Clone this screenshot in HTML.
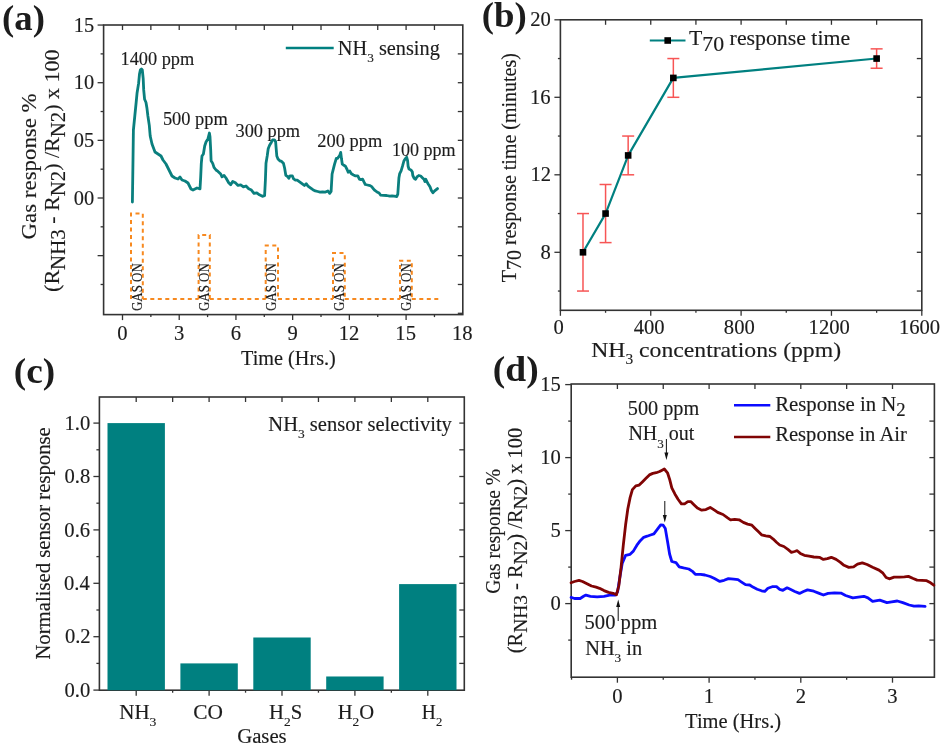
<!DOCTYPE html>
<html><head><meta charset="utf-8"><style>
html,body{margin:0;padding:0;background:#fff;}
body{width:944px;height:749px;overflow:hidden;}
svg{display:block;font-family:'Liberation Serif', serif;filter:blur(0.35px);}
</style></head><body>
<svg width="944" height="749" viewBox="0 0 944 749">
<rect width="944" height="749" fill="#fff"/>
<rect x="103.60" y="25.00" width="359.20" height="289.60" fill="none" stroke="#333333" stroke-width="1.6"/>
<line x1="97.60" y1="25.05" x2="103.60" y2="25.05" stroke="#333333" stroke-width="1.3" />
<line x1="97.60" y1="82.70" x2="103.60" y2="82.70" stroke="#333333" stroke-width="1.3" />
<line x1="97.60" y1="140.35" x2="103.60" y2="140.35" stroke="#333333" stroke-width="1.3" />
<line x1="97.60" y1="198.00" x2="103.60" y2="198.00" stroke="#333333" stroke-width="1.3" />
<line x1="97.60" y1="255.65" x2="103.60" y2="255.65" stroke="#333333" stroke-width="1.3" />
<line x1="100.60" y1="53.88" x2="103.60" y2="53.88" stroke="#333333" stroke-width="1.3" />
<line x1="100.60" y1="111.53" x2="103.60" y2="111.53" stroke="#333333" stroke-width="1.3" />
<line x1="100.60" y1="169.18" x2="103.60" y2="169.18" stroke="#333333" stroke-width="1.3" />
<line x1="100.60" y1="226.82" x2="103.60" y2="226.82" stroke="#333333" stroke-width="1.3" />
<line x1="100.60" y1="284.48" x2="103.60" y2="284.48" stroke="#333333" stroke-width="1.3" />
<line x1="457.80" y1="53.88" x2="462.80" y2="53.88" stroke="#333333" stroke-width="1.3" />
<line x1="457.80" y1="82.70" x2="462.80" y2="82.70" stroke="#333333" stroke-width="1.3" />
<line x1="457.80" y1="111.53" x2="462.80" y2="111.53" stroke="#333333" stroke-width="1.3" />
<line x1="457.80" y1="140.35" x2="462.80" y2="140.35" stroke="#333333" stroke-width="1.3" />
<line x1="457.80" y1="169.18" x2="462.80" y2="169.18" stroke="#333333" stroke-width="1.3" />
<line x1="457.80" y1="198.00" x2="462.80" y2="198.00" stroke="#333333" stroke-width="1.3" />
<line x1="457.80" y1="226.82" x2="462.80" y2="226.82" stroke="#333333" stroke-width="1.3" />
<line x1="457.80" y1="255.65" x2="462.80" y2="255.65" stroke="#333333" stroke-width="1.3" />
<line x1="457.80" y1="284.48" x2="462.80" y2="284.48" stroke="#333333" stroke-width="1.3" />
<line x1="457.80" y1="313.30" x2="462.80" y2="313.30" stroke="#333333" stroke-width="1.3" />
<line x1="122.50" y1="25.00" x2="122.50" y2="30.00" stroke="#333333" stroke-width="1.3" />
<line x1="122.50" y1="314.60" x2="122.50" y2="320.10" stroke="#333333" stroke-width="1.3" />
<line x1="150.86" y1="25.00" x2="150.86" y2="30.00" stroke="#333333" stroke-width="1.3" />
<line x1="150.86" y1="314.60" x2="150.86" y2="317.10" stroke="#333333" stroke-width="1.3" />
<line x1="179.22" y1="25.00" x2="179.22" y2="30.00" stroke="#333333" stroke-width="1.3" />
<line x1="179.22" y1="314.60" x2="179.22" y2="320.10" stroke="#333333" stroke-width="1.3" />
<line x1="207.58" y1="25.00" x2="207.58" y2="30.00" stroke="#333333" stroke-width="1.3" />
<line x1="207.58" y1="314.60" x2="207.58" y2="317.10" stroke="#333333" stroke-width="1.3" />
<line x1="235.94" y1="25.00" x2="235.94" y2="30.00" stroke="#333333" stroke-width="1.3" />
<line x1="235.94" y1="314.60" x2="235.94" y2="320.10" stroke="#333333" stroke-width="1.3" />
<line x1="264.29" y1="25.00" x2="264.29" y2="30.00" stroke="#333333" stroke-width="1.3" />
<line x1="264.29" y1="314.60" x2="264.29" y2="317.10" stroke="#333333" stroke-width="1.3" />
<line x1="292.65" y1="25.00" x2="292.65" y2="30.00" stroke="#333333" stroke-width="1.3" />
<line x1="292.65" y1="314.60" x2="292.65" y2="320.10" stroke="#333333" stroke-width="1.3" />
<line x1="321.01" y1="25.00" x2="321.01" y2="30.00" stroke="#333333" stroke-width="1.3" />
<line x1="321.01" y1="314.60" x2="321.01" y2="317.10" stroke="#333333" stroke-width="1.3" />
<line x1="349.37" y1="25.00" x2="349.37" y2="30.00" stroke="#333333" stroke-width="1.3" />
<line x1="349.37" y1="314.60" x2="349.37" y2="320.10" stroke="#333333" stroke-width="1.3" />
<line x1="377.73" y1="25.00" x2="377.73" y2="30.00" stroke="#333333" stroke-width="1.3" />
<line x1="377.73" y1="314.60" x2="377.73" y2="317.10" stroke="#333333" stroke-width="1.3" />
<line x1="406.09" y1="25.00" x2="406.09" y2="30.00" stroke="#333333" stroke-width="1.3" />
<line x1="406.09" y1="314.60" x2="406.09" y2="320.10" stroke="#333333" stroke-width="1.3" />
<line x1="434.45" y1="25.00" x2="434.45" y2="30.00" stroke="#333333" stroke-width="1.3" />
<line x1="434.45" y1="314.60" x2="434.45" y2="317.10" stroke="#333333" stroke-width="1.3" />
<text x="73.72" y="31.65" font-size="20.4" fill="#1c1c1c" stroke="#1c1c1c" stroke-width="0.15">15</text>
<text x="73.72" y="89.30" font-size="20.4" fill="#1c1c1c" stroke="#1c1c1c" stroke-width="0.15">10</text>
<text x="73.72" y="146.95" font-size="20.4" fill="#1c1c1c" stroke="#1c1c1c" stroke-width="0.15">05</text>
<text x="73.72" y="204.60" font-size="20.4" fill="#1c1c1c" stroke="#1c1c1c" stroke-width="0.15">00</text>
<text x="117.35" y="340.20" font-size="20.6" fill="#1c1c1c" stroke="#1c1c1c" stroke-width="0.15">0</text>
<text x="174.02" y="340.20" font-size="20.6" fill="#1c1c1c" stroke="#1c1c1c" stroke-width="0.15">3</text>
<text x="230.68" y="340.20" font-size="20.6" fill="#1c1c1c" stroke="#1c1c1c" stroke-width="0.15">6</text>
<text x="287.61" y="340.20" font-size="20.6" fill="#1c1c1c" stroke="#1c1c1c" stroke-width="0.15">9</text>
<text x="338.76" y="340.20" font-size="20.6" fill="#1c1c1c" stroke="#1c1c1c" stroke-width="0.15">12</text>
<text x="395.33" y="340.20" font-size="20.6" fill="#1c1c1c" stroke="#1c1c1c" stroke-width="0.15">15</text>
<text x="452.04" y="340.20" font-size="20.6" fill="#1c1c1c" stroke="#1c1c1c" stroke-width="0.15">18</text>
<text x="241.10" y="365.00" font-size="20" fill="#1c1c1c" stroke="#1c1c1c" stroke-width="0.15" textLength="94.73" lengthAdjust="spacingAndGlyphs" >Time (Hrs.)</text>
<text transform="translate(36.10,238.50) rotate(-90)" x="-0.91" y="0" font-size="22" fill="#1c1c1c" stroke="#1c1c1c" stroke-width="0.15" textLength="146.05" lengthAdjust="spacingAndGlyphs" >Gas response %</text>
<text transform="translate(59.30,290.90) rotate(-90)" x="-0.99" y="0" font-size="21.5" fill="#1c1c1c" stroke="#1c1c1c" stroke-width="0.15" textLength="242.43" lengthAdjust="spacingAndGlyphs" >(R<tspan font-size="20.43" dy="5.50">NH3</tspan><tspan dy="-5.50"> - R</tspan><tspan font-size="20.43" dy="5.50">N2</tspan><tspan dy="-5.50">) /R</tspan><tspan font-size="20.43" dy="5.50">N2</tspan><tspan dy="-5.50">) x 100</tspan></text>
<line x1="285.80" y1="48.00" x2="333.70" y2="48.00" stroke="#008080" stroke-width="2.4" />
<text x="337.89" y="55.20" font-size="20" fill="#1c1c1c" stroke="#1c1c1c" stroke-width="0.15" textLength="101.91" lengthAdjust="spacingAndGlyphs" >NH<tspan font-size="13.00" dy="7.00">3</tspan><tspan dy="-7.00"> sensing</tspan></text>
<text x="120.54" y="65.20" font-size="18.5" fill="#1c1c1c" stroke="#1c1c1c" stroke-width="0.15" textLength="73.69" lengthAdjust="spacingAndGlyphs" >1400 ppm</text>
<text x="162.90" y="124.60" font-size="18.5" fill="#1c1c1c" stroke="#1c1c1c" stroke-width="0.15" textLength="64.94" lengthAdjust="spacingAndGlyphs" >500 ppm</text>
<text x="235.48" y="136.70" font-size="18.5" fill="#1c1c1c" stroke="#1c1c1c" stroke-width="0.15" textLength="64.66" lengthAdjust="spacingAndGlyphs" >300 ppm</text>
<text x="317.27" y="146.70" font-size="18.5" fill="#1c1c1c" stroke="#1c1c1c" stroke-width="0.15" textLength="64.96" lengthAdjust="spacingAndGlyphs" >200 ppm</text>
<text x="391.97" y="155.50" font-size="18.5" fill="#1c1c1c" stroke="#1c1c1c" stroke-width="0.15" textLength="63.56" lengthAdjust="spacingAndGlyphs" >100 ppm</text>
<polyline points="132.4,202.0 133.0,160.0 133.4,130.0 134.8,116.0 136.2,102.0 137.1,92.7 138.6,83.4 139.5,74.0 140.4,69.8 141.4,69.0 142.3,70.0 143.2,78.7 143.7,89.9 144.6,99.3 146.0,102.5 147.0,108.6 147.9,116.0 149.3,125.4 150.2,136.0 152.0,144.0 155.0,152.0 158.0,154.0 161.0,156.0 163.0,160.0 166.0,164.0 169.0,170.0 172.0,176.0 175.0,178.0 178.0,179.0 180.0,177.0 182.0,180.0 185.0,181.0 188.0,183.0 191.0,189.0 193.0,190.0 197.0,188.0 200.0,188.8 200.7,176.8 201.3,163.4 202.0,156.0 203.4,154.0 204.7,146.0 206.0,142.0 208.0,138.7 209.4,133.0 210.0,136.7 210.7,150.0 211.1,160.7 212.7,163.4 214.0,167.4 216.0,170.0 218.0,171.4 220.7,174.0 222.0,176.8 224.0,175.4 226.0,178.0 228.7,182.8 230.7,184.8 232.7,181.4 235.4,182.8 238.0,185.4 240.7,184.8 243.4,186.8 246.0,186.0 248.7,188.8 251.4,190.1 254.0,193.4 256.8,192.8 259.4,194.8 262.4,196.3 264.6,195.7 265.4,180.0 266.0,163.2 267.2,156.0 268.2,148.8 269.6,145.2 271.4,142.2 272.6,139.8 274.4,139.8 275.6,141.6 276.2,148.8 276.8,156.0 278.0,159.0 279.8,160.8 281.6,161.4 283.4,163.2 284.6,168.0 285.8,175.3 287.6,176.5 288.8,178.3 290.0,175.9 292.4,175.9 293.6,178.9 295.4,180.1 297.2,180.1 299.6,181.9 302.0,183.7 304.4,185.5 306.2,183.7 308.0,186.1 310.4,187.9 312.9,189.7 315.3,190.9 317.7,191.5 320.1,192.1 322.5,191.8 325.5,192.1 327.9,190.9 329.7,193.3 331.1,191.5 332.1,174.0 333.0,170.4 334.5,164.4 336.3,158.4 337.5,158.3 339.6,155.6 340.7,152.4 341.5,158.8 342.3,164.2 343.9,165.3 345.5,166.3 347.1,169.5 348.2,172.2 349.8,171.1 351.4,173.8 353.5,174.9 355.6,175.9 357.8,175.9 359.4,179.1 361.0,179.7 362.6,179.1 364.2,182.4 365.3,184.5 367.4,185.0 370.1,185.6 371.7,186.6 373.3,188.8 374.9,190.4 377.0,192.0 379.1,193.0 380.7,195.2 383.4,195.4 386.6,195.5 389.8,196.2 392.0,196.0 394.1,196.2 396.8,196.5 397.8,194.1 398.9,178.1 399.7,173.6 401.1,170.8 402.5,166.2 403.9,161.0 405.3,158.7 406.7,157.3 407.6,160.6 408.1,166.2 409.0,169.0 410.9,169.9 412.3,171.8 412.8,175.5 414.2,178.3 415.6,179.3 417.0,176.9 418.8,175.5 420.7,176.0 422.6,177.9 424.0,179.3 424.9,181.6 425.8,179.3 426.8,181.6 428.2,183.9 430.0,186.7 431.4,190.5 432.9,192.8 434.7,190.9 437.5,188.6" fill="none" stroke="#0a7f7e" stroke-width="2.8" stroke-linejoin="round" stroke-linecap="round" />
<path d="M131.0,299.0 L131.0,213.5 L142.8,213.5 L142.8,299.0" fill="none" stroke="#f7891f" stroke-width="2" stroke-dasharray="4,3.5"/>
<path d="M142.8,299.0 L198.6,299.0" fill="none" stroke="#f7891f" stroke-width="2" stroke-dasharray="4,3.5"/>
<text transform="translate(141.50,310.50) rotate(-90)" x="-0.52" y="0" font-size="14" fill="#1c1c1c" stroke="#1c1c1c" stroke-width="0.15" textLength="47.77" lengthAdjust="spacingAndGlyphs" >GAS ON</text>
<path d="M198.6,299.0 L198.6,235.1 L209.8,235.1 L209.8,299.0" fill="none" stroke="#f7891f" stroke-width="2" stroke-dasharray="4,3.5"/>
<path d="M209.8,299.0 L265.7,299.0" fill="none" stroke="#f7891f" stroke-width="2" stroke-dasharray="4,3.5"/>
<text transform="translate(208.80,310.50) rotate(-90)" x="-0.52" y="0" font-size="14" fill="#1c1c1c" stroke="#1c1c1c" stroke-width="0.15" textLength="47.77" lengthAdjust="spacingAndGlyphs" >GAS ON</text>
<path d="M265.7,299.0 L265.7,245.6 L278.0,245.6 L278.0,299.0" fill="none" stroke="#f7891f" stroke-width="2" stroke-dasharray="4,3.5"/>
<path d="M278.0,299.0 L333.0,299.0" fill="none" stroke="#f7891f" stroke-width="2" stroke-dasharray="4,3.5"/>
<text transform="translate(276.45,310.50) rotate(-90)" x="-0.52" y="0" font-size="14" fill="#1c1c1c" stroke="#1c1c1c" stroke-width="0.15" textLength="47.77" lengthAdjust="spacingAndGlyphs" >GAS ON</text>
<path d="M333.0,299.0 L333.0,253.0 L344.8,253.0 L344.8,299.0" fill="none" stroke="#f7891f" stroke-width="2" stroke-dasharray="4,3.5"/>
<path d="M344.8,299.0 L400.0,299.0" fill="none" stroke="#f7891f" stroke-width="2" stroke-dasharray="4,3.5"/>
<text transform="translate(343.50,310.50) rotate(-90)" x="-0.52" y="0" font-size="14" fill="#1c1c1c" stroke="#1c1c1c" stroke-width="0.15" textLength="47.77" lengthAdjust="spacingAndGlyphs" >GAS ON</text>
<path d="M400.0,299.0 L400.0,260.8 L411.8,260.8 L411.8,299.0" fill="none" stroke="#f7891f" stroke-width="2" stroke-dasharray="4,3.5"/>
<path d="M411.8,299.0 L441,299.0" fill="none" stroke="#f7891f" stroke-width="2" stroke-dasharray="4,3.5"/>
<text transform="translate(410.50,310.50) rotate(-90)" x="-0.52" y="0" font-size="14" fill="#1c1c1c" stroke="#1c1c1c" stroke-width="0.15" textLength="47.77" lengthAdjust="spacingAndGlyphs" >GAS ON</text>
<rect x="560.40" y="19.80" width="361.40" height="290.50" fill="none" stroke="#333333" stroke-width="1.6"/>
<line x1="554.40" y1="19.80" x2="560.40" y2="19.80" stroke="#333333" stroke-width="1.3" />
<line x1="554.40" y1="97.30" x2="560.40" y2="97.30" stroke="#333333" stroke-width="1.3" />
<line x1="554.40" y1="174.80" x2="560.40" y2="174.80" stroke="#333333" stroke-width="1.3" />
<line x1="554.40" y1="252.30" x2="560.40" y2="252.30" stroke="#333333" stroke-width="1.3" />
<line x1="557.90" y1="58.55" x2="560.40" y2="58.55" stroke="#333333" stroke-width="1.3" />
<line x1="557.90" y1="136.05" x2="560.40" y2="136.05" stroke="#333333" stroke-width="1.3" />
<line x1="557.90" y1="213.55" x2="560.40" y2="213.55" stroke="#333333" stroke-width="1.3" />
<line x1="557.90" y1="291.05" x2="560.40" y2="291.05" stroke="#333333" stroke-width="1.3" />
<line x1="916.80" y1="58.55" x2="921.80" y2="58.55" stroke="#333333" stroke-width="1.3" />
<line x1="916.80" y1="97.30" x2="921.80" y2="97.30" stroke="#333333" stroke-width="1.3" />
<line x1="916.80" y1="136.05" x2="921.80" y2="136.05" stroke="#333333" stroke-width="1.3" />
<line x1="916.80" y1="174.80" x2="921.80" y2="174.80" stroke="#333333" stroke-width="1.3" />
<line x1="916.80" y1="213.55" x2="921.80" y2="213.55" stroke="#333333" stroke-width="1.3" />
<line x1="916.80" y1="252.30" x2="921.80" y2="252.30" stroke="#333333" stroke-width="1.3" />
<line x1="916.80" y1="291.05" x2="921.80" y2="291.05" stroke="#333333" stroke-width="1.3" />
<line x1="605.57" y1="19.80" x2="605.57" y2="24.80" stroke="#333333" stroke-width="1.3" />
<line x1="650.75" y1="19.80" x2="650.75" y2="24.80" stroke="#333333" stroke-width="1.3" />
<line x1="695.92" y1="19.80" x2="695.92" y2="24.80" stroke="#333333" stroke-width="1.3" />
<line x1="741.10" y1="19.80" x2="741.10" y2="24.80" stroke="#333333" stroke-width="1.3" />
<line x1="786.27" y1="19.80" x2="786.27" y2="24.80" stroke="#333333" stroke-width="1.3" />
<line x1="831.45" y1="19.80" x2="831.45" y2="24.80" stroke="#333333" stroke-width="1.3" />
<line x1="876.62" y1="19.80" x2="876.62" y2="24.80" stroke="#333333" stroke-width="1.3" />
<line x1="560.40" y1="310.30" x2="560.40" y2="315.80" stroke="#333333" stroke-width="1.3" />
<line x1="605.57" y1="310.30" x2="605.57" y2="312.80" stroke="#333333" stroke-width="1.3" />
<line x1="650.75" y1="310.30" x2="650.75" y2="315.80" stroke="#333333" stroke-width="1.3" />
<line x1="695.92" y1="310.30" x2="695.92" y2="312.80" stroke="#333333" stroke-width="1.3" />
<line x1="741.10" y1="310.30" x2="741.10" y2="315.80" stroke="#333333" stroke-width="1.3" />
<line x1="786.27" y1="310.30" x2="786.27" y2="312.80" stroke="#333333" stroke-width="1.3" />
<line x1="831.45" y1="310.30" x2="831.45" y2="315.80" stroke="#333333" stroke-width="1.3" />
<line x1="876.62" y1="310.30" x2="876.62" y2="312.80" stroke="#333333" stroke-width="1.3" />
<line x1="921.80" y1="310.30" x2="921.80" y2="315.80" stroke="#333333" stroke-width="1.3" />
<text x="530.22" y="26.40" font-size="20.6" fill="#1c1c1c" stroke="#1c1c1c" stroke-width="0.15">20</text>
<text x="530.02" y="103.90" font-size="20.6" fill="#1c1c1c" stroke="#1c1c1c" stroke-width="0.15">16</text>
<text x="530.53" y="181.40" font-size="20.6" fill="#1c1c1c" stroke="#1c1c1c" stroke-width="0.15">12</text>
<text x="540.52" y="258.90" font-size="20.6" fill="#1c1c1c" stroke="#1c1c1c" stroke-width="0.15">8</text>
<text x="553.45" y="334.30" font-size="20.6" fill="#1c1c1c" stroke="#1c1c1c" stroke-width="0.15">0</text>
<text x="633.71" y="334.30" font-size="20.6" fill="#1c1c1c" stroke="#1c1c1c" stroke-width="0.15">400</text>
<text x="723.85" y="334.30" font-size="20.6" fill="#1c1c1c" stroke="#1c1c1c" stroke-width="0.15">800</text>
<text x="808.59" y="334.30" font-size="20.6" fill="#1c1c1c" stroke="#1c1c1c" stroke-width="0.15">1200</text>
<text x="898.94" y="334.30" font-size="20.6" fill="#1c1c1c" stroke="#1c1c1c" stroke-width="0.15">1600</text>
<text x="591.19" y="356.50" font-size="21.5" fill="#1c1c1c" stroke="#1c1c1c" stroke-width="0.15" textLength="249.87" lengthAdjust="spacingAndGlyphs" >NH<tspan font-size="13.97" dy="7.50">3</tspan><tspan dy="-7.50"> concentrations (ppm)</tspan></text>
<text transform="translate(515.80,281.90) rotate(-90)" x="-0.40" y="0" font-size="20" fill="#1c1c1c" stroke="#1c1c1c" stroke-width="0.15" textLength="229.17" lengthAdjust="spacingAndGlyphs" >T<tspan dy="5.60">70</tspan><tspan dy="-5.60"> response time (minutes)</tspan></text>
<line x1="582.99" y1="291.05" x2="582.99" y2="213.55" stroke="#f75555" stroke-width="1.5" />
<line x1="576.99" y1="291.05" x2="588.99" y2="291.05" stroke="#f75555" stroke-width="1.5" />
<line x1="576.99" y1="213.55" x2="588.99" y2="213.55" stroke="#f75555" stroke-width="1.5" />
<line x1="605.57" y1="242.61" x2="605.57" y2="184.49" stroke="#f75555" stroke-width="1.5" />
<line x1="599.57" y1="242.61" x2="611.57" y2="242.61" stroke="#f75555" stroke-width="1.5" />
<line x1="599.57" y1="184.49" x2="611.57" y2="184.49" stroke="#f75555" stroke-width="1.5" />
<line x1="628.16" y1="174.80" x2="628.16" y2="136.05" stroke="#f75555" stroke-width="1.5" />
<line x1="622.16" y1="174.80" x2="634.16" y2="174.80" stroke="#f75555" stroke-width="1.5" />
<line x1="622.16" y1="136.05" x2="634.16" y2="136.05" stroke="#f75555" stroke-width="1.5" />
<line x1="673.34" y1="97.30" x2="673.34" y2="58.55" stroke="#f75555" stroke-width="1.5" />
<line x1="667.34" y1="97.30" x2="679.34" y2="97.30" stroke="#f75555" stroke-width="1.5" />
<line x1="667.34" y1="58.55" x2="679.34" y2="58.55" stroke="#f75555" stroke-width="1.5" />
<line x1="876.62" y1="68.24" x2="876.62" y2="48.86" stroke="#f75555" stroke-width="1.5" />
<line x1="870.62" y1="68.24" x2="882.62" y2="68.24" stroke="#f75555" stroke-width="1.5" />
<line x1="870.62" y1="48.86" x2="882.62" y2="48.86" stroke="#f75555" stroke-width="1.5" />
<polyline points="583.0,252.3 605.6,213.6 628.2,155.4 673.3,77.9 876.6,58.5" fill="none" stroke="#008080" stroke-width="2.2" stroke-linejoin="round" stroke-linecap="round" />
<rect x="579.69" y="249.00" width="6.6" height="6.6" fill="#000"/>
<rect x="602.27" y="210.25" width="6.6" height="6.6" fill="#000"/>
<rect x="624.86" y="152.12" width="6.6" height="6.6" fill="#000"/>
<rect x="670.04" y="74.62" width="6.6" height="6.6" fill="#000"/>
<rect x="873.33" y="55.25" width="6.6" height="6.6" fill="#000"/>
<line x1="649.80" y1="40.50" x2="685.50" y2="40.50" stroke="#008080" stroke-width="2.2" />
<rect x="664.40" y="37.20" width="6.6" height="6.6" fill="#000"/>
<text x="689.06" y="45.20" font-size="20.5" fill="#1c1c1c" stroke="#1c1c1c" stroke-width="0.15" textLength="161.03" lengthAdjust="spacingAndGlyphs" >T<tspan dy="5.60">70</tspan><tspan dy="-5.60"> response time</tspan></text>
<rect x="99.40" y="397.00" width="364.90" height="293.20" fill="none" stroke="#333333" stroke-width="1.6"/>
<line x1="93.40" y1="690.10" x2="99.40" y2="690.10" stroke="#333333" stroke-width="1.3" />
<line x1="96.40" y1="663.40" x2="99.40" y2="663.40" stroke="#333333" stroke-width="1.3" />
<line x1="459.30" y1="663.40" x2="464.30" y2="663.40" stroke="#333333" stroke-width="1.3" />
<line x1="93.40" y1="636.70" x2="99.40" y2="636.70" stroke="#333333" stroke-width="1.3" />
<line x1="459.30" y1="636.70" x2="464.30" y2="636.70" stroke="#333333" stroke-width="1.3" />
<line x1="96.40" y1="610.00" x2="99.40" y2="610.00" stroke="#333333" stroke-width="1.3" />
<line x1="459.30" y1="610.00" x2="464.30" y2="610.00" stroke="#333333" stroke-width="1.3" />
<line x1="93.40" y1="583.30" x2="99.40" y2="583.30" stroke="#333333" stroke-width="1.3" />
<line x1="459.30" y1="583.30" x2="464.30" y2="583.30" stroke="#333333" stroke-width="1.3" />
<line x1="96.40" y1="556.60" x2="99.40" y2="556.60" stroke="#333333" stroke-width="1.3" />
<line x1="459.30" y1="556.60" x2="464.30" y2="556.60" stroke="#333333" stroke-width="1.3" />
<line x1="93.40" y1="529.90" x2="99.40" y2="529.90" stroke="#333333" stroke-width="1.3" />
<line x1="459.30" y1="529.90" x2="464.30" y2="529.90" stroke="#333333" stroke-width="1.3" />
<line x1="96.40" y1="503.20" x2="99.40" y2="503.20" stroke="#333333" stroke-width="1.3" />
<line x1="459.30" y1="503.20" x2="464.30" y2="503.20" stroke="#333333" stroke-width="1.3" />
<line x1="93.40" y1="476.50" x2="99.40" y2="476.50" stroke="#333333" stroke-width="1.3" />
<line x1="459.30" y1="476.50" x2="464.30" y2="476.50" stroke="#333333" stroke-width="1.3" />
<line x1="96.40" y1="449.80" x2="99.40" y2="449.80" stroke="#333333" stroke-width="1.3" />
<line x1="459.30" y1="449.80" x2="464.30" y2="449.80" stroke="#333333" stroke-width="1.3" />
<line x1="93.40" y1="423.10" x2="99.40" y2="423.10" stroke="#333333" stroke-width="1.3" />
<line x1="459.30" y1="423.10" x2="464.30" y2="423.10" stroke="#333333" stroke-width="1.3" />
<line x1="136.20" y1="397.00" x2="136.20" y2="402.00" stroke="#333333" stroke-width="1.3" />
<line x1="136.20" y1="690.20" x2="136.20" y2="695.70" stroke="#333333" stroke-width="1.3" />
<line x1="172.65" y1="397.00" x2="172.65" y2="402.00" stroke="#333333" stroke-width="1.3" />
<line x1="172.65" y1="690.20" x2="172.65" y2="692.70" stroke="#333333" stroke-width="1.3" />
<line x1="209.10" y1="397.00" x2="209.10" y2="402.00" stroke="#333333" stroke-width="1.3" />
<line x1="209.10" y1="690.20" x2="209.10" y2="695.70" stroke="#333333" stroke-width="1.3" />
<line x1="245.55" y1="397.00" x2="245.55" y2="402.00" stroke="#333333" stroke-width="1.3" />
<line x1="245.55" y1="690.20" x2="245.55" y2="692.70" stroke="#333333" stroke-width="1.3" />
<line x1="282.00" y1="397.00" x2="282.00" y2="402.00" stroke="#333333" stroke-width="1.3" />
<line x1="282.00" y1="690.20" x2="282.00" y2="695.70" stroke="#333333" stroke-width="1.3" />
<line x1="318.45" y1="397.00" x2="318.45" y2="402.00" stroke="#333333" stroke-width="1.3" />
<line x1="318.45" y1="690.20" x2="318.45" y2="692.70" stroke="#333333" stroke-width="1.3" />
<line x1="354.90" y1="397.00" x2="354.90" y2="402.00" stroke="#333333" stroke-width="1.3" />
<line x1="354.90" y1="690.20" x2="354.90" y2="695.70" stroke="#333333" stroke-width="1.3" />
<line x1="391.35" y1="397.00" x2="391.35" y2="402.00" stroke="#333333" stroke-width="1.3" />
<line x1="391.35" y1="690.20" x2="391.35" y2="692.70" stroke="#333333" stroke-width="1.3" />
<line x1="427.80" y1="397.00" x2="427.80" y2="402.00" stroke="#333333" stroke-width="1.3" />
<line x1="427.80" y1="690.20" x2="427.80" y2="695.70" stroke="#333333" stroke-width="1.3" />
<text x="64.57" y="429.80" font-size="20.6" fill="#1c1c1c" stroke="#1c1c1c" stroke-width="0.15">1.0</text>
<text x="64.57" y="483.20" font-size="20.6" fill="#1c1c1c" stroke="#1c1c1c" stroke-width="0.15">0.8</text>
<text x="64.37" y="536.60" font-size="20.6" fill="#1c1c1c" stroke="#1c1c1c" stroke-width="0.15">0.6</text>
<text x="64.06" y="590.00" font-size="20.6" fill="#1c1c1c" stroke="#1c1c1c" stroke-width="0.15">0.4</text>
<text x="64.88" y="643.40" font-size="20.6" fill="#1c1c1c" stroke="#1c1c1c" stroke-width="0.15">0.2</text>
<text x="64.57" y="696.80" font-size="20.6" fill="#1c1c1c" stroke="#1c1c1c" stroke-width="0.15">0.0</text>
<rect x="107.50" y="423.10" width="57.4" height="267.10" fill="#008080"/>
<rect x="180.40" y="663.40" width="57.4" height="26.80" fill="#008080"/>
<rect x="253.30" y="637.50" width="57.4" height="52.70" fill="#008080"/>
<rect x="326.20" y="676.48" width="57.4" height="13.72" fill="#008080"/>
<rect x="399.10" y="584.10" width="57.4" height="106.10" fill="#008080"/>
<text x="119.37" y="719.20" font-size="20" fill="#1c1c1c" stroke="#1c1c1c" stroke-width="0.15" textLength="37.07" lengthAdjust="spacingAndGlyphs" >NH<tspan font-size="13.00" dy="7.00">3</tspan></text>
<text x="193.24" y="719.20" font-size="20" fill="#1c1c1c" stroke="#1c1c1c" stroke-width="0.15" textLength="29.70" lengthAdjust="spacingAndGlyphs" >CO</text>
<text x="269.08" y="719.20" font-size="20" fill="#1c1c1c" stroke="#1c1c1c" stroke-width="0.15" textLength="33.08" lengthAdjust="spacingAndGlyphs" >H<tspan font-size="13.00" dy="7.00">2</tspan><tspan dy="-7.00">S</tspan></text>
<text x="337.68" y="719.20" font-size="20" fill="#1c1c1c" stroke="#1c1c1c" stroke-width="0.15" textLength="36.49" lengthAdjust="spacingAndGlyphs" >H<tspan font-size="13.00" dy="7.00">2</tspan><tspan dy="-7.00">O</tspan></text>
<text x="421.82" y="719.20" font-size="20" fill="#1c1c1c" stroke="#1c1c1c" stroke-width="0.15" textLength="20.38" lengthAdjust="spacingAndGlyphs" >H<tspan font-size="13.00" dy="7.00">2</tspan></text>
<text x="237.17" y="742.60" font-size="20" fill="#1c1c1c" stroke="#1c1c1c" stroke-width="0.15" textLength="49.52" lengthAdjust="spacingAndGlyphs" >Gases</text>
<text x="268.38" y="431.00" font-size="20" fill="#1c1c1c" stroke="#1c1c1c" stroke-width="0.15" textLength="183.52" lengthAdjust="spacingAndGlyphs" >NH<tspan font-size="13.00" dy="7.00">3</tspan><tspan dy="-7.00"> sensor selectivity</tspan></text>
<text transform="translate(49.70,659.00) rotate(-90)" x="-0.62" y="0" font-size="20" fill="#1c1c1c" stroke="#1c1c1c" stroke-width="0.15" textLength="232.44" lengthAdjust="spacingAndGlyphs" >Normalised sensor response</text>
<rect x="571.20" y="384.00" width="363.20" height="293.20" fill="none" stroke="#333333" stroke-width="1.6"/>
<line x1="568.20" y1="640.10" x2="571.20" y2="640.10" stroke="#333333" stroke-width="1.3" />
<line x1="929.40" y1="640.10" x2="934.40" y2="640.10" stroke="#333333" stroke-width="1.3" />
<line x1="565.20" y1="603.60" x2="571.20" y2="603.60" stroke="#333333" stroke-width="1.3" />
<line x1="929.40" y1="603.60" x2="934.40" y2="603.60" stroke="#333333" stroke-width="1.3" />
<line x1="568.20" y1="567.10" x2="571.20" y2="567.10" stroke="#333333" stroke-width="1.3" />
<line x1="929.40" y1="567.10" x2="934.40" y2="567.10" stroke="#333333" stroke-width="1.3" />
<line x1="565.20" y1="530.60" x2="571.20" y2="530.60" stroke="#333333" stroke-width="1.3" />
<line x1="929.40" y1="530.60" x2="934.40" y2="530.60" stroke="#333333" stroke-width="1.3" />
<line x1="568.20" y1="494.10" x2="571.20" y2="494.10" stroke="#333333" stroke-width="1.3" />
<line x1="929.40" y1="494.10" x2="934.40" y2="494.10" stroke="#333333" stroke-width="1.3" />
<line x1="565.20" y1="457.60" x2="571.20" y2="457.60" stroke="#333333" stroke-width="1.3" />
<line x1="929.40" y1="457.60" x2="934.40" y2="457.60" stroke="#333333" stroke-width="1.3" />
<line x1="568.20" y1="421.10" x2="571.20" y2="421.10" stroke="#333333" stroke-width="1.3" />
<line x1="929.40" y1="421.10" x2="934.40" y2="421.10" stroke="#333333" stroke-width="1.3" />
<line x1="565.20" y1="384.60" x2="571.20" y2="384.60" stroke="#333333" stroke-width="1.3" />
<line x1="571.55" y1="677.20" x2="571.55" y2="679.70" stroke="#333333" stroke-width="1.3" />
<line x1="617.40" y1="384.00" x2="617.40" y2="389.00" stroke="#333333" stroke-width="1.3" />
<line x1="617.40" y1="677.20" x2="617.40" y2="682.70" stroke="#333333" stroke-width="1.3" />
<line x1="663.25" y1="384.00" x2="663.25" y2="389.00" stroke="#333333" stroke-width="1.3" />
<line x1="663.25" y1="677.20" x2="663.25" y2="679.70" stroke="#333333" stroke-width="1.3" />
<line x1="709.10" y1="384.00" x2="709.10" y2="389.00" stroke="#333333" stroke-width="1.3" />
<line x1="709.10" y1="677.20" x2="709.10" y2="682.70" stroke="#333333" stroke-width="1.3" />
<line x1="754.95" y1="384.00" x2="754.95" y2="389.00" stroke="#333333" stroke-width="1.3" />
<line x1="754.95" y1="677.20" x2="754.95" y2="679.70" stroke="#333333" stroke-width="1.3" />
<line x1="800.80" y1="384.00" x2="800.80" y2="389.00" stroke="#333333" stroke-width="1.3" />
<line x1="800.80" y1="677.20" x2="800.80" y2="682.70" stroke="#333333" stroke-width="1.3" />
<line x1="846.65" y1="384.00" x2="846.65" y2="389.00" stroke="#333333" stroke-width="1.3" />
<line x1="846.65" y1="677.20" x2="846.65" y2="679.70" stroke="#333333" stroke-width="1.3" />
<line x1="892.50" y1="384.00" x2="892.50" y2="389.00" stroke="#333333" stroke-width="1.3" />
<line x1="892.50" y1="677.20" x2="892.50" y2="682.70" stroke="#333333" stroke-width="1.3" />
<text x="540.22" y="391.00" font-size="20.6" fill="#1c1c1c" stroke="#1c1c1c" stroke-width="0.15">15</text>
<text x="540.22" y="464.00" font-size="20.6" fill="#1c1c1c" stroke="#1c1c1c" stroke-width="0.15">10</text>
<text x="550.52" y="537.00" font-size="20.6" fill="#1c1c1c" stroke="#1c1c1c" stroke-width="0.15">5</text>
<text x="550.52" y="610.00" font-size="20.6" fill="#1c1c1c" stroke="#1c1c1c" stroke-width="0.15">0</text>
<text x="612.25" y="703.20" font-size="20.6" fill="#1c1c1c" stroke="#1c1c1c" stroke-width="0.15">0</text>
<text x="703.69" y="703.20" font-size="20.6" fill="#1c1c1c" stroke="#1c1c1c" stroke-width="0.15">1</text>
<text x="795.75" y="703.20" font-size="20.6" fill="#1c1c1c" stroke="#1c1c1c" stroke-width="0.15">2</text>
<text x="887.30" y="703.20" font-size="20.6" fill="#1c1c1c" stroke="#1c1c1c" stroke-width="0.15">3</text>
<text x="685.09" y="727.70" font-size="20" fill="#1c1c1c" stroke="#1c1c1c" stroke-width="0.15" textLength="96.04" lengthAdjust="spacingAndGlyphs" >Time (Hrs.)</text>
<text transform="translate(499.50,593.00) rotate(-90)" x="-0.78" y="0" font-size="20" fill="#1c1c1c" stroke="#1c1c1c" stroke-width="0.15" textLength="124.91" lengthAdjust="spacingAndGlyphs" >Gas response %</text>
<text transform="translate(521.80,652.30) rotate(-90)" x="-0.92" y="0" font-size="20" fill="#1c1c1c" stroke="#1c1c1c" stroke-width="0.15" textLength="225.40" lengthAdjust="spacingAndGlyphs" >(R<tspan font-size="19.00" dy="5.50">NH3</tspan><tspan dy="-5.50"> - R</tspan><tspan font-size="19.00" dy="5.50">N2</tspan><tspan dy="-5.50">) /R</tspan><tspan font-size="19.00" dy="5.50">N2</tspan><tspan dy="-5.50">) x 100</tspan></text>
<line x1="734.00" y1="405.30" x2="770.30" y2="405.30" stroke="#0c0cff" stroke-width="2.6" />
<line x1="734.00" y1="437.00" x2="770.30" y2="437.00" stroke="#800404" stroke-width="2.6" />
<text x="775.18" y="410.70" font-size="20" fill="#1c1c1c" stroke="#1c1c1c" stroke-width="0.15" textLength="130.55" lengthAdjust="spacingAndGlyphs" >Response in N<tspan font-size="18.00" dy="5.50">2</tspan></text>
<text x="775.18" y="441.30" font-size="20" fill="#1c1c1c" stroke="#1c1c1c" stroke-width="0.15" textLength="131.70" lengthAdjust="spacingAndGlyphs" >Response in Air</text>
<text x="627.78" y="415.10" font-size="20" fill="#1c1c1c" stroke="#1c1c1c" stroke-width="0.15" textLength="71.48" lengthAdjust="spacingAndGlyphs" >500 ppm</text>
<text x="628.40" y="440.20" font-size="20" fill="#1c1c1c" stroke="#1c1c1c" stroke-width="0.15" textLength="65.96" lengthAdjust="spacingAndGlyphs" >NH<tspan font-size="13.00" dy="7.50">3</tspan><tspan dy="-7.50"> out</tspan></text>
<text x="584.56" y="629.30" font-size="20" fill="#1c1c1c" stroke="#1c1c1c" stroke-width="0.15" textLength="72.70" lengthAdjust="spacingAndGlyphs" >500 ppm</text>
<text x="585.19" y="654.90" font-size="20" fill="#1c1c1c" stroke="#1c1c1c" stroke-width="0.15" textLength="56.97" lengthAdjust="spacingAndGlyphs" >NH<tspan font-size="13.00" dy="7.50">3</tspan><tspan dy="-7.50"> in</tspan></text>
<line x1="666.40" y1="439.00" x2="666.40" y2="454.00" stroke="#111" stroke-width="1" />
<path d="M664.40,452.50 L668.40,452.50 L666.40,460.00 Z" fill="#111"/>
<line x1="664.80" y1="501.00" x2="664.80" y2="516.60" stroke="#111" stroke-width="1" />
<path d="M662.80,515.10 L666.80,515.10 L664.80,522.60 Z" fill="#111"/>
<line x1="618.20" y1="621.00" x2="618.20" y2="605.60" stroke="#111" stroke-width="1" />
<path d="M616.20,607.10 L620.20,607.10 L618.20,599.60 Z" fill="#111"/>
<polyline points="571.1,597.4 574.5,598.5 580.2,598.5 583.6,596.3 585.9,595.1 590.4,596.3 597.2,596.9 604.0,596.3 609.7,595.1 615.4,595.1 617.6,591.7 619.9,577.0 622.2,563.4 625.6,555.4 630.1,554.3 633.5,550.9 636.9,545.2 640.3,540.7 643.7,537.3 647.1,536.2 650.5,535.0 653.9,533.9 657.3,529.4 660.7,524.8 663.2,525.2 665.3,528.4 667.5,541.2 669.6,554.0 671.8,561.5 676.0,562.6 679.2,566.8 683.5,567.9 688.8,569.0 692.1,571.1 695.3,574.3 700.6,574.3 704.9,575.0 710.2,576.5 714.5,578.6 719.8,581.4 724.1,580.3 728.4,578.6 733.7,579.2 738.0,579.7 741.2,581.8 745.5,584.6 749.7,585.0 752.9,587.1 757.2,589.3 761.5,590.8 764.7,591.4 767.9,588.2 772.2,586.7 776.5,586.7 779.7,589.3 782.9,590.3 787.1,587.8 790.3,589.3 794.8,591.5 799.5,593.4 803.5,591.5 807.5,589.9 813.8,591.2 818.6,593.1 823.4,595.0 828.1,593.4 834.5,592.8 840.9,593.1 845.6,595.5 852.8,597.9 858.3,597.1 863.9,596.3 867.9,597.9 872.6,601.4 879.8,600.2 886.9,602.6 891.7,601.8 897.3,601.0 902.8,602.6 909.2,605.0 914.0,606.1 918.7,605.8 925.1,606.3" fill="none" stroke="#0c0cff" stroke-width="2.8" stroke-linejoin="round" stroke-linecap="round" />
<polyline points="571.1,582.7 574.5,581.5 579.0,580.4 582.5,581.5 587.0,583.8 591.5,586.0 596.1,587.2 599.5,588.3 604.0,590.6 608.5,592.4 613.1,593.3 616.5,594.7 618.8,586.0 621.0,567.9 623.3,545.2 625.6,524.8 627.8,509.0 630.1,497.6 632.4,489.7 635.8,485.8 639.2,485.1 642.6,481.7 646.0,478.3 649.4,474.9 652.8,473.4 656.2,472.7 659.6,471.5 662.1,470.2 664.3,469.0 667.5,472.8 669.6,479.2 671.8,487.8 675.0,494.2 678.2,499.5 681.4,503.8 684.6,503.8 687.8,501.7 691.0,501.7 694.2,504.9 697.4,508.1 701.7,510.2 705.9,509.6 710.2,507.4 714.5,510.2 717.7,512.4 723.0,514.5 727.3,517.7 730.5,519.8 734.8,519.4 739.1,519.8 743.3,522.4 747.6,524.1 751.9,525.2 755.1,528.4 758.3,531.6 761.5,534.8 765.8,535.9 770.0,536.5 773.2,539.1 776.5,542.3 779.7,545.0 783.9,546.5 788.2,549.7 791.4,552.3 794.6,551.5 797.2,550.7 800.3,553.4 804.3,555.3 809.1,556.2 813.8,557.0 819.4,557.3 823.4,559.4 827.3,558.6 831.3,557.3 836.1,559.4 840.1,562.1 844.0,565.3 848.8,567.4 853.6,566.9 857.5,564.2 862.3,562.9 867.1,564.5 872.6,567.2 879.0,570.1 883.0,573.2 886.1,577.5 889.3,578.8 894.1,577.2 899.6,577.2 904.4,576.9 908.4,576.4 913.2,578.5 917.1,580.1 921.9,580.4 926.7,580.7 930.6,582.8 933.8,585.2" fill="none" stroke="#800404" stroke-width="2.8" stroke-linejoin="round" stroke-linecap="round" />
<text x="2.05" y="29.90" font-size="35.5" font-weight="bold" fill="#1c1c1c" textLength="42.86" lengthAdjust="spacingAndGlyphs" >(a)</text>
<text x="481.84" y="27.10" font-size="35.5" font-weight="bold" fill="#1c1c1c" textLength="45.01" lengthAdjust="spacingAndGlyphs" >(b)</text>
<text x="13.82" y="383.00" font-size="35.5" font-weight="bold" fill="#1c1c1c" textLength="41.35" lengthAdjust="spacingAndGlyphs" >(c)</text>
<text x="492.81" y="380.60" font-size="35.5" font-weight="bold" fill="#1c1c1c" textLength="45.88" lengthAdjust="spacingAndGlyphs" >(d)</text>
</svg>
</body></html>
